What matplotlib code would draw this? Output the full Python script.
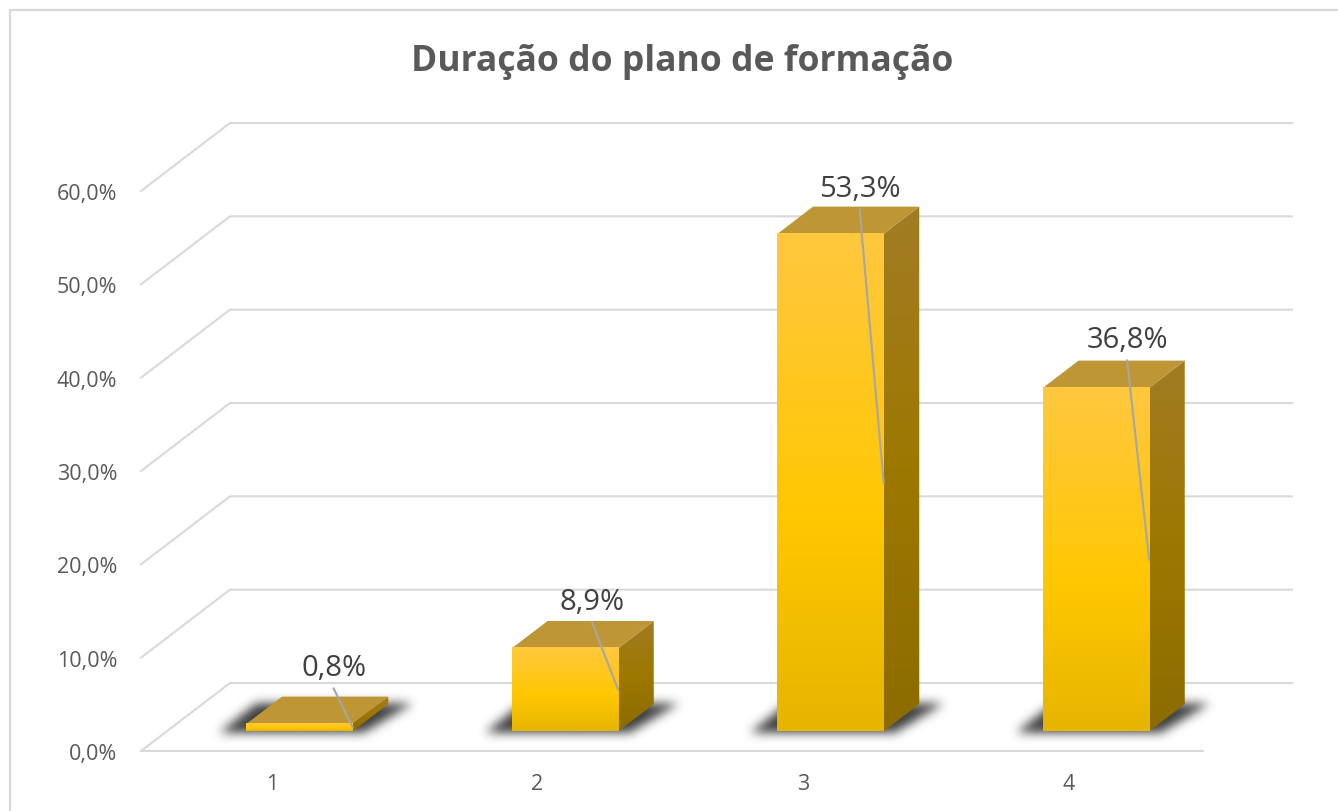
import numpy as np
import matplotlib
matplotlib.use("Agg")
import matplotlib.pyplot as plt
from matplotlib.lines import Line2D
from matplotlib.path import Path
from matplotlib.patches import Polygon

W, H = 1338, 812

categories = ["1", "2", "3", "4"]
values = [0.8, 8.9, 53.3, 36.8]
value_labels = ["0,8%", "8,9%", "53,3%", "36,8%"]
y_ticks = [0, 10, 20, 30, 40, 50, 60]
y_tick_labels = ["0,0%", "10,0%", "20,0%", "30,0%", "40,0%", "50,0%", "60,0%"]
title = "Duração do plano de formação"

# px position of the front plane of the plot
LEFT, RIGHT, BOTTOM, TOP = 141, 1203, 752, 192
PX_X = (RIGHT - LEFT) / 4
PX_Y = (BOTTOM - TOP) / 60

# depth of the floor in px, turned into data units
DEPTH_X = 89 / PX_X
DEPTH_Y = 68 / PX_Y
BAR_W = 0.4
D0, D1 = 0.29, 0.69

# label centre relative to the end of its leader line, px
label_offsets = [(-19, 60), (-26, 88), (-24, 294), (-22, 220)]

GRID = "#D9D9D9"


def project(x, y, d):
    return x + d * DEPTH_X, y + d * DEPTH_Y


def gradient(stops, colors):
    t = np.linspace(0, 1, 200)
    rgb = [matplotlib.colors.to_rgb(c) for c in colors]
    arr = np.array([np.interp(t, stops, [c[i] for c in rgb]) for i in range(3)])
    return arr.T[:, None, :]


def draw_shadow(ax, x0, x1, sigma=5):
    # blurred footprint of the bar, one grid cell per screen pixel
    corners = [project(x0 - 0.095, 0, D0 - 0.02), project(x1 + 0.05, 0, D0 - 0.02),
               project(x1 + 0.09, 0, D1 + 0.01), project(x0 - 0.10, 0, D1 + 0.01)]
    cx = [c[0] for c in corners]
    cy = [c[1] for c in corners]
    pad_x, pad_y = 20 / PX_X, 20 / PX_Y
    xe = (min(cx) - pad_x, max(cx) + pad_x)
    ye = (min(cy) - pad_y, max(cy) + pad_y)
    nx = int((xe[1] - xe[0]) * PX_X)
    ny = int((ye[1] - ye[0]) * PX_Y)
    gx, gy = np.meshgrid(np.linspace(*xe, nx), np.linspace(*ye, ny))
    pts = np.column_stack([gx.ravel(), gy.ravel()])
    mask = Path(corners).contains_points(pts).reshape(ny, nx).astype(float)

    r = np.arange(-15, 16)
    kernel = np.exp(-r ** 2 / (2 * sigma ** 2))
    kernel /= kernel.sum()
    mask = np.apply_along_axis(lambda m: np.convolve(m, kernel, mode="same"), 0, mask)
    mask = np.apply_along_axis(lambda m: np.convolve(m, kernel, mode="same"), 1, mask)

    rgba = np.zeros((ny, nx, 4))
    rgba[..., :3] = 0.2
    rgba[..., 3] = mask * 0.95
    ax.imshow(rgba, origin="lower", extent=(xe[0], xe[1], ye[0], ye[1]), aspect="auto",
              clip_on=False, zorder=2, interpolation="bilinear")


fig = plt.figure(figsize=(W / 100, H / 100), dpi=100, facecolor="white")
# only the left and top of the chart frame are inside the picture
fig.add_artist(Line2D([9.5 / W, 9.5 / W, 1], [0, 1 - 10.5 / H, 1 - 10.5 / H],
                      color=GRID, lw=1.6, transform=fig.transFigure))
ax = fig.add_axes([LEFT / W, 1 - BOTTOM / H, (RIGHT - LEFT) / W, (BOTTOM - TOP) / H])
ax.patch.set_visible(False)
for s in ax.spines.values():
    s.set_visible(False)

# walls
for t in y_ticks:
    xs, ys = zip(project(0, t, 0), project(0, t, 1), project(4, t, 1))
    ax.plot(xs, ys, color=GRID, lw=1.5, clip_on=False, zorder=1, solid_joinstyle="miter")
ax.plot([0, 4], [0, 0], color=GRID, lw=1.5, clip_on=False, zorder=1)

for i, v in enumerate(values):
    x0 = i + 0.5 - BAR_W / 2
    x1 = x0 + BAR_W

    draw_shadow(ax, x0, x1)

    # front face
    fx0, fy0 = project(x0, 0, D0)
    fx1, fy1 = project(x1, v, D0)
    ax.imshow(gradient([0, 0.42, 1], ["#E6B500", "#FFC700", "#FFC83F"]), origin="lower",
              extent=(fx0, fx1, fy0, fy1), aspect="auto", clip_on=False, zorder=4)

    # side face
    side = [project(x1, 0, D0), project(x1, 0, D1), project(x1, v, D1), project(x1, v, D0)]
    bx0, bx1 = side[0][0], side[1][0]
    by0, by1 = side[0][1], side[2][1]
    im = ax.imshow(gradient([0, 0.5, 1], ["#8C6C00", "#9D7800", "#A27C24"]), origin="lower",
                   extent=(bx0, bx1, by0, by1), aspect="auto", zorder=3)
    im.set_clip_path(Polygon(side, closed=True, transform=ax.transData))

    # top face
    top = [project(x0, v, D0), project(x1, v, D0), project(x1, v, D1), project(x0, v, D1)]
    ax.add_patch(Polygon(top, closed=True, facecolor="#BF9636", edgecolor="none",
                         clip_on=False, zorder=3))

    # leader line and label
    ex, ey = project(x1, v / 2, D0)
    ox, oy = label_offsets[i]
    ax.plot([ex + ox / PX_X, ex], [ey + (oy - 21) / PX_Y, ey], color="#A6A6A6", lw=1.5,
            clip_on=False, zorder=5)
    ax.annotate(value_labels[i], xy=(ex, ey), xytext=(ox, oy), textcoords="offset pixels",
                ha="center", va="center", fontsize=21, color="#404040",
                family="Open Sans", zorder=6, annotation_clip=False)

ax.set_xlim(0, 4)
ax.set_ylim(0, 60)
# tick labels sit about 2 px left of the category centre
ax.set_xticks(np.arange(len(categories)) + 0.5 - 2 / PX_X, categories)
ax.set_yticks(y_ticks, y_tick_labels)
ax.tick_params(length=0, labelsize=15.5, labelcolor="#595959", pad=17)
ax.tick_params(axis="x", pad=15.5)
for lab in ax.get_xticklabels() + ax.get_yticklabels():
    lab.set_family("Open Sans")

fig.text(682 / W, 1 - 62 / H, title, ha="center", va="center", fontsize=25.6,
         fontweight="bold", color="#595959", family="Open Sans")

fig.savefig("out.png", dpi=100)
